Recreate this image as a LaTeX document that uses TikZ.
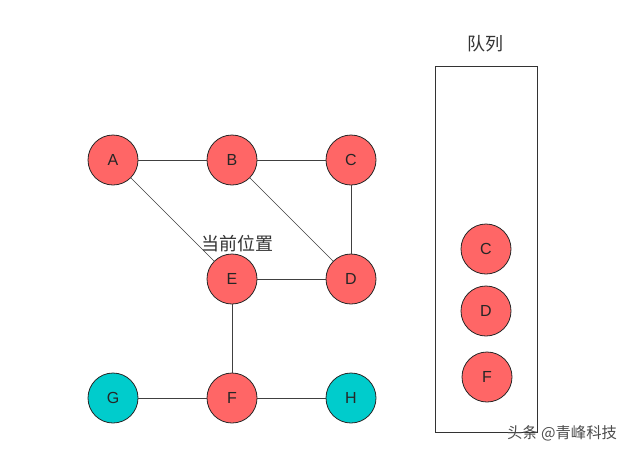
\documentclass[tikz,border=0pt]{standalone}
\usepackage{fontspec}
\setsansfont{Liberation Sans}
\newfontfamily\cjk{Noto Sans CJK SC}
\usetikzlibrary{positioning}
\definecolor{nodered}{HTML}{FF6666}
\definecolor{nodecyan}{HTML}{00CCCC}

\begin{document}
\begin{tikzpicture}[x=0.75pt,y=-0.75pt,node distance=89.25pt]
\tikzstyle{every node}=[font=\sffamily\fontsize{12}{14}\selectfont, text=black!85]
\tikzstyle{vertex}=[circle, draw=black!85, line width=0.6pt, minimum size=37.5pt, inner sep=0pt]
\tikzstyle{visited}=[vertex, fill=nodered]
\tikzstyle{fresh}=[vertex, fill=nodecyan]
\tikzstyle{every edge}=[draw, black!75, line width=0.75pt]
\tikzstyle{label}=[font=\cjk\fontsize{13.5}{15}\selectfont, text=black!80]

\useasboundingbox (0,0) rectangle (634,454);

% graph
\node[visited] (A) at (113,160) {A};
\node[visited, right of=A] (B) {B};
\node[visited, right of=B] (C) {C};
\node[visited, below of=B] (E) {E};
\node[visited, right of=E] (D) {D};
\node[visited, below of=E] (F) {F};
\node[fresh, left of=F] (G) {G};
\node[fresh, right of=F] (H) {H};

\draw (A) edge (B) edge[line width=0.5pt] (E);
\draw (B) edge (C) edge[line width=0.5pt] (D);
\draw (C) edge (D);
\draw (E) edge (D) edge (F);
\draw (F) edge (G) edge (H);

\node[label] (cur) at (237,244) {当前位置};

% queue
\node[draw=black!80, line width=0.75pt, minimum width=76.5pt, minimum height=274.5pt] (Q) at (486,249) {};
\node[label] (qtitle) at (485,44) {队列};
\node[visited] (qC) at (486,249) {C};
\node[visited] (qD) at (486,311) {D};
\node[visited] (qF) at (487,377) {F};

\node[font=\cjk\fontsize{11.5}{13}\selectfont, text=black!70] (mark) at (562,433) {头条 @青峰科技};
\end{tikzpicture}
\end{document}
